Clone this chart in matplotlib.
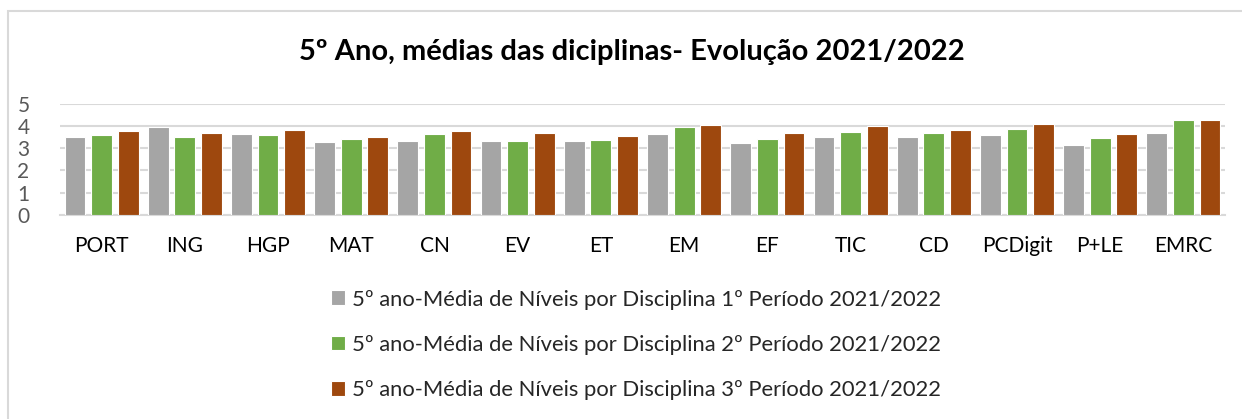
import matplotlib
matplotlib.use("Agg")
import matplotlib.pyplot as plt
import numpy as np
from matplotlib.patches import Rectangle

categories = ["PORT", "ING", "HGP", "MAT", "CN", "EV", "ET", "EM", "EF", "TIC", "CD", "PCDigit", "P+LE", "EMRC"]
p1 = [3.51, 3.96, 3.64, 3.28, 3.31, 3.31, 3.33, 3.63, 3.25, 3.51, 3.51, 3.58, 3.16, 3.70]
p2 = [3.58, 3.52, 3.60, 3.42, 3.63, 3.34, 3.37, 3.98, 3.40, 3.73, 3.67, 3.86, 3.46, 4.29]
p3 = [3.77, 3.67, 3.84, 3.52, 3.78, 3.69, 3.57, 4.04, 3.67, 4.02, 3.84, 4.11, 3.66, 4.29]
series_labels = [
    "5º ano-Média de Níveis por Disciplina 1º Período 2021/2022",
    "5º ano-Média de Níveis por Disciplina 2º Período 2021/2022",
    "5º ano-Média de Níveis por Disciplina 3º Período 2021/2022",
]
title = "5º Ano, médias das diciplinas- Evolução 2021/2022"
colors = ["#A5A5A5", "#70AD47", "#9E480E"]

plt.rcParams['font.family'] = ['Lato', 'DejaVu Sans']

W, H = 1242, 419
fig = plt.figure(figsize=(W / 100, H / 100), dpi=100)
fig.patches.append(Rectangle((8 / W, -0.2), 1.2, 1.2 - 11.5 / H, transform=fig.transFigure,
                             fill=False, edgecolor="#D9D9D9", linewidth=1.5))

ax = fig.add_axes([60 / W, 1 - 214.7 / H, (1225 - 60) / W, (214.7 - 104) / H])
x = np.arange(len(categories))
offs = [-0.32, 0, 0.32]
handles = []
for i, (vals, c, lab) in enumerate(zip([p1, p2, p3], colors, series_labels)):
    b = ax.bar(x + offs[i], vals, width=0.25, color=c, edgecolor="white", linewidth=0.8,
               label=lab, zorder=3)
    handles.append(b)

ax.set_xlim(-0.5, len(categories) - 0.5)
ax.set_ylim(0, 5)
ax.set_yticks([0, 1, 2, 3, 4, 5])
ax.yaxis.grid(True, color="#D9D9D9", linewidth=1.5, zorder=0)
ax.set_axisbelow(True)
for s in ["top", "right", "left"]:
    ax.spines[s].set_visible(False)
ax.spines["bottom"].set_color("#D9D9D9")
ax.spines["bottom"].set_linewidth(1.5)
ax.tick_params(axis="both", length=0)
ax.tick_params(axis="y", labelsize=15, labelcolor="#595959", pad=22)
ax.set_xticks(x)
ax.set_xticklabels(categories, fontsize=15, color="black")
ax.tick_params(axis="x", pad=15)

fig.text(632 / W, 1 - 52 / H, title, ha="center", va="center", fontsize=21, fontweight="bold")

leg = fig.legend(handles=handles, labels=series_labels, loc="upper left",
                 bbox_to_anchor=(331 / W, 1 - 289.5 / H), ncol=1, frameon=False,
                 fontsize=15.8, handlelength=0.65, handleheight=0.65, handletextpad=0.3,
                 labelspacing=1.15, borderaxespad=0, borderpad=0)
for t in leg.get_texts():
    t.set_color("#262626")

fig.savefig("out.png", dpi=100)
